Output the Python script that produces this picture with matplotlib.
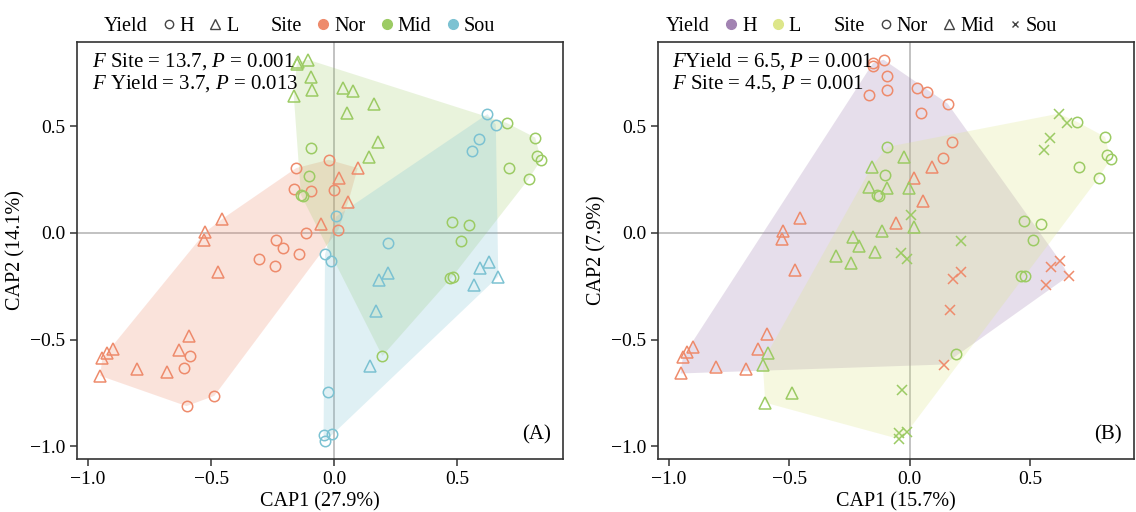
import matplotlib
matplotlib.use("Agg")
import matplotlib.pyplot as plt
from matplotlib.lines import Line2D
import numpy as np

plt.rcParams['font.family'] = ['Liberation Serif', 'DejaVu Serif']
plt.rcParams['mathtext.fontset'] = 'custom'
plt.rcParams['mathtext.rm'] = 'Liberation Serif'
plt.rcParams['mathtext.it'] = 'Liberation Serif:italic'

# ---- panel A data (CAP1 27.9%, CAP2 14.1%) ----
a_nor_h_x = [-0.022, -0.154, -0.165, -0.093, 0.001, -0.114, 0.017, -0.236, -0.209, -0.142,
             -0.305, -0.240, -0.587, -0.610, -0.487, -0.600]
a_nor_h_y = [0.343, 0.304, 0.207, 0.197, 0.202, 0.000, 0.014, -0.033, -0.072, -0.099,
             -0.121, -0.155, -0.576, -0.632, -0.764, -0.812]
a_nor_l_x = [0.018, 0.096, 0.057, -0.054, -0.454, -0.523, -0.528, -0.474, -0.591, -0.630,
             -0.678, -0.802, -0.897, -0.924, -0.942, -0.951]
a_nor_l_y = [0.256, 0.304, 0.144, 0.042, 0.066, 0.004, -0.035, -0.182, -0.482, -0.549,
             -0.651, -0.640, -0.545, -0.565, -0.588, -0.670]
a_mid_h_x = [-0.093, -0.104, -0.135, -0.128, 0.702, 0.817, 0.824, 0.841, 0.709, 0.790,
             0.478, 0.549, 0.514, 0.469, 0.481, 0.196]
a_mid_h_y = [0.398, 0.268, 0.178, 0.172, 0.515, 0.447, 0.361, 0.343, 0.302, 0.252,
             0.053, 0.038, -0.040, -0.210, -0.205, -0.577]
a_mid_l_x = [-0.152, -0.145, -0.106, -0.093, -0.091, -0.164, 0.035, 0.076, 0.052, 0.163, 0.178, 0.141]
a_mid_l_y = [0.790, 0.800, 0.812, 0.732, 0.670, 0.643, 0.679, 0.663, 0.562, 0.606, 0.426, 0.354]
a_sou_h_x = [0.623, 0.657, 0.588, 0.561, 0.008, 0.217, -0.037, -0.012, -0.027, -0.043, -0.007, -0.039]
a_sou_h_y = [0.557, 0.508, 0.441, 0.382, 0.077, -0.045, -0.100, -0.131, -0.748, -0.948, -0.945, -0.975]
a_sou_l_x = [0.218, 0.184, 0.170, 0.146, 0.631, 0.593, 0.667, 0.570]
a_sou_l_y = [-0.186, -0.221, -0.365, -0.623, -0.135, -0.166, -0.205, -0.244]

# ---- panel B data (CAP1 15.7%, CAP2 7.9%) ----
b_or_circ_x = [-0.153, -0.153, -0.109, -0.095, -0.095, -0.169, 0.031, 0.072, 0.047, 0.157, 0.174, 0.138]
b_or_circ_y = [0.796, 0.782, 0.812, 0.734, 0.668, 0.645, 0.678, 0.662, 0.562, 0.606, 0.427, 0.352]
b_or_tri_x = [0.093, 0.016, 0.055, -0.058, -0.456, -0.525, -0.530, -0.477, -0.592, -0.632,
              -0.679, -0.803, -0.898, -0.924, -0.942, -0.951]
b_or_tri_y = [0.310, 0.258, 0.151, 0.048, 0.069, 0.008, -0.029, -0.176, -0.473, -0.542,
              -0.640, -0.629, -0.536, -0.559, -0.581, -0.659]
b_or_x_x = [0.625, 0.587, 0.660, 0.563, 0.213, 0.179, 0.165, 0.142]
b_or_x_y = [-0.134, -0.162, -0.201, -0.243, -0.184, -0.216, -0.360, -0.617]
b_gr_circ_x = [-0.094, -0.105, -0.135, -0.128, 0.695, 0.810, 0.817, 0.833, 0.702, 0.783,
               0.472, 0.544, 0.510, 0.462, 0.477, 0.193]
b_gr_circ_y = [0.403, 0.272, 0.178, 0.172, 0.520, 0.450, 0.364, 0.346, 0.307, 0.258,
               0.057, 0.043, -0.034, -0.204, -0.200, -0.570]
b_gr_tri_x = [-0.158, -0.024, -0.169, -0.095, -0.003, -0.117, 0.016, -0.236, -0.212, -0.146,
              -0.306, -0.243, -0.590, -0.610, -0.489, -0.600]
b_gr_tri_y = [0.310, 0.354, 0.216, 0.209, 0.212, 0.009, 0.027, -0.020, -0.061, -0.090,
              -0.109, -0.142, -0.562, -0.617, -0.749, -0.796]
b_gr_x_x = [0.618, 0.652, 0.582, 0.556, 0.003, 0.212, -0.038, -0.013, -0.032, -0.047, -0.011, -0.043]
b_gr_x_y = [0.559, 0.513, 0.445, 0.388, 0.084, -0.036, -0.093, -0.124, -0.738, -0.939, -0.933, -0.967]

c_nor = "#EE8B6C"
c_mid = "#9CCB64"
c_sou = "#7CC2D2"
c_h = "#A283B2"
c_l = "#DDE68A"


def hull(xs, ys):
    pts = sorted(set(zip(xs, ys)))

    def cross(o, a, b):
        return (a[0] - o[0]) * (b[1] - o[1]) - (a[1] - o[1]) * (b[0] - o[0])
    lower, upper = [], []
    for p in pts:
        while len(lower) >= 2 and cross(lower[-2], lower[-1], p) <= 0:
            lower.pop()
        lower.append(p)
    for p in reversed(pts):
        while len(upper) >= 2 and cross(upper[-2], upper[-1], p) <= 0:
            upper.pop()
        upper.append(p)
    h = np.array(lower[:-1] + upper[:-1])
    return h[:, 0], h[:, 1]


def style_axes(ax, xlabel, ylabel, tag):
    ax.axhline(0, color="#BDBDBD", lw=1.3, zorder=1)
    ax.axvline(0, color="#BDBDBD", lw=1.3, zorder=1)
    ax.set_xlim(-1.045, 0.93)
    ax.set_ylim(-1.06, 0.895)
    ax.set_xticks([-1.0, -0.5, 0.0, 0.5])
    ax.set_xticklabels(["\u22121.0", "\u22120.5", "0.0", "0.5"])
    ax.set_yticks([-1.0, -0.5, 0.0, 0.5])
    ax.set_yticklabels(["\u22121.0", "\u22120.5", "0.0", "0.5"])
    ax.tick_params(labelsize=14, length=5, width=1.1, color="#333333", direction="out")
    for s in ax.spines.values():
        s.set_linewidth(1.2)
        s.set_color("#333333")
    ax.set_xlabel(xlabel, fontsize=14.5, labelpad=3)
    ax.set_ylabel(ylabel, fontsize=14.5, labelpad=3)
    ax.text(0.975, 0.035, tag, transform=ax.transAxes, ha="right", va="bottom", fontsize=15)


fig = plt.figure(figsize=(11.36, 5.12), dpi=100)
ax1 = fig.add_axes([77 / 1136, 53 / 512, 486 / 1136, 417 / 512])
ax2 = fig.add_axes([658 / 1136, 53 / 512, 476 / 1136, 417 / 512])

# ---- panel A ----
groups_a = [
    (a_nor_h_x + a_nor_l_x, a_nor_h_y + a_nor_l_y, c_nor, 0.24),
    (a_mid_h_x + a_mid_l_x, a_mid_h_y + a_mid_l_y, c_mid, 0.22),
    (a_sou_h_x + a_sou_l_x, a_sou_h_y + a_sou_l_y, c_sou, 0.24),
]
for gx, gy, col, al in groups_a:
    hx, hy = hull(gx, gy)
    ax1.fill(hx, hy, color=col, alpha=al, lw=0, zorder=2)

for xs, ys, col, m in [
    (a_nor_h_x, a_nor_h_y, c_nor, "o"), (a_nor_l_x, a_nor_l_y, c_nor, "^"),
    (a_mid_h_x, a_mid_h_y, c_mid, "o"), (a_mid_l_x, a_mid_l_y, c_mid, "^"),
    (a_sou_h_x, a_sou_h_y, c_sou, "o"), (a_sou_l_x, a_sou_l_y, c_sou, "^"),
]:
    ax1.plot(xs, ys, m, ls="none", mfc="none", mec=col, mew=1.1,
             ms=7.5 if m == "o" else 9, zorder=3)

ax1.text(0.03, 0.978, r"$\it{F}$ Site = 13.7, $\it{P}$ = 0.001" + "\n" + r"$\it{F}$ Yield = 3.7, $\it{P}$ = 0.013",
         transform=ax1.transAxes, ha="left", va="top", fontsize=15, linespacing=1.05)
style_axes(ax1, "CAP1 (27.9%)", "CAP2 (14.1%)", "(A)")

blank = Line2D([], [], ls="none")
hA = [blank,
      Line2D([], [], ls="none", marker="o", mfc="none", mec="#444444", ms=6),
      Line2D([], [], ls="none", marker="^", mfc="none", mec="#444444", ms=7),
      blank,
      Line2D([], [], ls="none", marker="o", color=c_nor, ms=7),
      Line2D([], [], ls="none", marker="o", color=c_mid, ms=7),
      Line2D([], [], ls="none", marker="o", color=c_sou, ms=7)]
lA = ["Yield", "H", "L", "Site", "Nor", "Mid", "Sou"]
ax1.legend(hA, lA, ncol=7, loc="lower center", bbox_to_anchor=(0.44, 0.99), frameon=False,
           fontsize=14.5, handlelength=0.6, handletextpad=0.25, columnspacing=0.75, borderaxespad=0.1)

# ---- panel B ----
hx, hy = hull(b_or_circ_x + b_or_tri_x + b_or_x_x, b_or_circ_y + b_or_tri_y + b_or_x_y)
ax2.fill(hx, hy, color=c_h, alpha=0.26, lw=0, zorder=2)
hx, hy = hull(b_gr_circ_x + b_gr_tri_x + b_gr_x_x, b_gr_circ_y + b_gr_tri_y + b_gr_x_y)
ax2.fill(hx, hy, color=c_l, alpha=0.26, lw=0, zorder=2)

for xs, ys, col, m in [
    (b_or_circ_x, b_or_circ_y, c_nor, "o"), (b_or_tri_x, b_or_tri_y, c_nor, "^"),
    (b_or_x_x, b_or_x_y, c_nor, "x"),
    (b_gr_circ_x, b_gr_circ_y, c_mid, "o"), (b_gr_tri_x, b_gr_tri_y, c_mid, "^"),
    (b_gr_x_x, b_gr_x_y, c_mid, "x"),
]:
    ax2.plot(xs, ys, m, ls="none", mfc="none", mec=col, mew=1.1,
             ms={"o": 7.5, "^": 9, "x": 7}[m], zorder=3)

ax2.text(0.03, 0.978, r"$\it{F}$Yield = 6.5, $\it{P}$ = 0.001" + "\n" + r"$\it{F}$ Site = 4.5, $\it{P}$ = 0.001",
         transform=ax2.transAxes, ha="left", va="top", fontsize=15, linespacing=1.05)
style_axes(ax2, "CAP1 (15.7%)", "CAP2 (7.9%)", "(B)")

hB = [blank,
      Line2D([], [], ls="none", marker="o", color=c_h, ms=7),
      Line2D([], [], ls="none", marker="o", color=c_l, ms=7),
      blank,
      Line2D([], [], ls="none", marker="o", mfc="none", mec="#444444", ms=6),
      Line2D([], [], ls="none", marker="^", mfc="none", mec="#444444", ms=7),
      Line2D([], [], ls="none", marker="x", mec="#444444", ms=5)]
lB = ["Yield", "H", "L", "Site", "Nor", "Mid", "Sou"]
ax2.legend(hB, lB, ncol=7, loc="lower center", bbox_to_anchor=(0.41, 0.99), frameon=False,
           fontsize=14.5, handlelength=0.6, handletextpad=0.25, columnspacing=0.75, borderaxespad=0.1)

fig.savefig("out.png", dpi=100)
